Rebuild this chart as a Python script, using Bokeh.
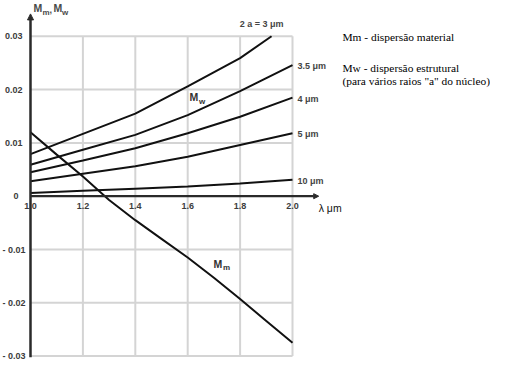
from bokeh.plotting import figure
from bokeh.models import Range1d, Arrow, NormalHead
from bokeh.core.properties import value
from bokeh.embed import file_html
from bokeh.resources import INLINE

# ---------------- data ----------------
x_ticks = [1.0, 1.2, 1.4, 1.6, 1.8, 2.0]
x_tick_labels = ["1.0", "1.2", "1.4", "1.6", "1.8", "2.0"]
y_pos_ticks = [0.03, 0.02, 0.01]
y_pos_labels = ["0.03", "0.02", "0.01"]
y_neg_ticks = [-0.01, -0.02, -0.03]
y_neg_labels = ["- 0.01", "- 0.02", "- 0.03"]

wl = [1.0, 1.2, 1.4, 1.6, 1.8, 2.0]
wl_3 = [1.0, 1.2, 1.4, 1.6, 1.8, 1.92]
mw_3 = [0.0079, 0.0117, 0.0155, 0.0206, 0.0259, 0.0300]
mw_35 = [0.0059, 0.0087, 0.0115, 0.0152, 0.0197, 0.0246]
mw_4 = [0.0045, 0.0067, 0.0090, 0.0118, 0.0149, 0.0185]
mw_5 = [0.0028, 0.0042, 0.0056, 0.0074, 0.0096, 0.0118]
mw_10 = [0.0006, 0.0010, 0.0014, 0.0018, 0.0024, 0.0031]

wl_m = [1.0, 1.1, 1.2, 1.3, 1.4, 1.5, 1.6, 1.7, 1.8, 1.9, 2.0]
mm = [0.0120, 0.0078, 0.0037, -0.0007, -0.0045, -0.0080, -0.0115,
      -0.0153, -0.0193, -0.0234, -0.0275]

curve_labels = ["3.5 \u03bcm", "4  \u03bcm", "5  \u03bcm", "10 \u03bcm"]
top_label = "2 a = 3 \u03bcm"
legend_lines = ["Mm - dispers\u00e3o material",
                "Mw - dispers\u00e3o estrutural",
                "(para v\u00e1rios raios \"a\" do n\u00facleo)"]

# ---------------- figure ----------------
W, H = 490, 363
PX_X = 262.0     # pixels per unit of lambda
PX_Y = 5330.0    # pixels per unit of M
X0 = 30.0        # screen x of lambda = 1.0
Y0 = 195.7       # screen y of M = 0

p = figure(width=W, height=H, title=None,
           x_range=Range1d(1.0 - X0 / PX_X, 1.0 + (W - X0) / PX_X),
           y_range=Range1d(-(H - Y0) / PX_Y, Y0 / PX_Y),
           x_axis_type=None, y_axis_type=None,
           output_backend="svg", toolbar_location=None, min_border=0)
p.outline_line_color = None
p.background_fill_color = "white"
p.border_fill_color = "white"

GRID = "#d4d4d4"
# vertical grid lines
p.segment(x0=x_ticks[1:], y0=[y_neg_ticks[-1]] * 5, x1=x_ticks[1:], y1=[y_pos_ticks[0]] * 5,
          line_color=GRID, line_width=2)
# horizontal grid lines
hy = y_pos_ticks + y_neg_ticks
p.segment(x0=[x_ticks[0]] * len(hy), y0=hy, x1=[x_ticks[-1]] * len(hy), y1=hy,
          line_color=GRID, line_width=2)

# axes with arrow heads
AX = "#2a2a2a"
p.add_layout(Arrow(end=NormalHead(size=6, fill_color=AX, line_color=AX),
                   x_start=1.0, y_start=-0.0302, x_end=1.0, y_end=0.0342,
                   line_color=AX, line_width=2.5))
p.add_layout(Arrow(end=NormalHead(size=5, fill_color=AX, line_color=AX),
                   x_start=1.0, y_start=0.0, x_end=2.1, y_end=0.0,
                   line_color=AX, line_width=2.2))

# curves
LC = "#111111"
for xs, ys in [(wl_3, mw_3), (wl, mw_35), (wl, mw_4), (wl, mw_5), (wl, mw_10), (wl_m, mm)]:
    p.line(xs, ys, line_color=LC, line_width=2)

TICKC = "#3c3c3c"
tick_font = value("Liberation Sans")
# y tick labels
p.text(x=[1.0] * 3, y=y_pos_ticks, text=y_pos_labels, x_offset=-8,
       text_align="right", text_baseline="middle", text_font=tick_font,
       text_font_size="9px", text_font_style="bold", text_color=TICKC)
p.text(x=[1.0], y=[0.0], text=["0"], x_offset=-12,
       text_align="right", text_baseline="middle", text_font=tick_font,
       text_font_size="9px", text_font_style="bold", text_color=TICKC)
p.text(x=[1.0] * 3, y=y_neg_ticks, text=y_neg_labels, x_offset=-5,
       text_align="right", text_baseline="middle", text_font=tick_font,
       text_font_size="9px", text_font_style="bold", text_color=TICKC)
# x tick labels
p.text(x=x_ticks, y=[0.0] * len(x_ticks), text=x_tick_labels, y_offset=10,
       text_align="center", text_baseline="middle", text_font=tick_font,
       text_font_size="9px", text_font_style="bold", text_color=TICKC)

# curve-end labels
ends_x = [wl[-1]] * 4
ends_y = [mw_35[-1], mw_4[-1], mw_5[-1], mw_10[-1]]
p.text(x=ends_x, y=ends_y, text=curve_labels, x_offset=5, y_offset=1,
       text_align="left", text_baseline="middle", text_font=tick_font,
       text_font_size="9px", text_font_style="bold", text_color="#444444")
p.text(x=[wl_3[-1]], y=[mw_3[-1]], text=[top_label], x_offset=-10, y_offset=-12,
       text_align="center", text_baseline="middle", text_font=tick_font,
       text_font_size="9px", text_font_style="bold", text_color="#444444")

# x axis unit label
p.text(x=[2.1], y=[0.0], text=["\u03bb \u03bcm"], x_offset=0, y_offset=12,
       text_align="left", text_baseline="middle", text_font=tick_font,
       text_font_size="10.5px", text_color="#111111")


def sub_label(x, y, parts, color="#333333"):
    # parts: list of (text, dx, dy, size)
    for t, dx, dy, sz in parts:
        p.text(x=[x], y=[y], text=[t], x_offset=dx, y_offset=dy,
               text_align="left", text_baseline="middle", text_font=tick_font,
               text_font_size=sz, text_font_style="bold", text_color=color)


# axis title  M_m, M_w
sub_label(1.0115, 0.03522, [("M", 0, 0, "10.5px"), ("m", 9, 4, "8px"),
                            (",", 16, 2, "9px"), ("M", 20, 0, "10.5px"),
                            ("w", 28.5, 4, "8px")], color="#4a4a4a")
# Mw label
sub_label(1.6069, 0.01852, [("M", 0, 0, "10.5px"), ("w", 9.5, 4, "8px")])
# Mm label
sub_label(1.6985, -0.01272, [("M", 0, 0, "10.5px"), ("m", 9.5, 4, "8px")])

# legend text (right)
p.text(x=[2.1908] * 3, y=[0.02978, 0.02396, 0.02152], text=legend_lines,
       text_align="left", text_baseline="alphabetic",
       text_font=value("Liberation Serif, Times New Roman, serif"), text_font_size="11.4px",
       text_color="#000000")

open("out.html", "w").write(file_html(p, INLINE))
